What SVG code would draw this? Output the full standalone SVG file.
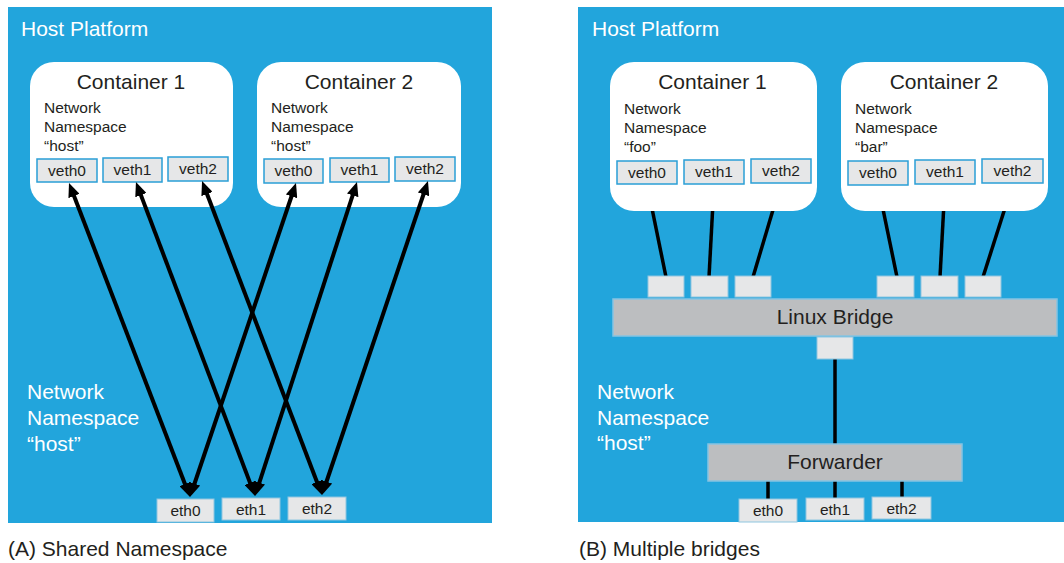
<svg xmlns="http://www.w3.org/2000/svg" width="1064" height="563" viewBox="0 0 1064 563">
  <style>
    .panel { fill: #22a5dc; }
    .container { fill: #ffffff; }
    .veth { fill: #e6e7e8; stroke: #2a9fd6; stroke-width: 1.5; }
    .port { fill: #e6e7e8; stroke: #8fc6e0; stroke-width: 1; }
    .bar { fill: #bcbec0; stroke: #86c3e2; stroke-width: 1.5; }
    .t { font-family: "Liberation Sans", Arial, sans-serif; fill: #231f20; }
    .w { font-family: "Liberation Sans", Arial, sans-serif; fill: #ffffff; }
    .lbl { font-size: 15.5px; }
    .ns { font-size: 15.5px; }
    .big { font-size: 21px; }
    .link { stroke: #000000; stroke-width: 4; fill: none; }
    .wire { stroke: #000000; stroke-width: 3.5; fill: none; }
  </style>
  <defs>
    <marker id="head" viewBox="0 0 14 12" refX="4" refY="6" markerWidth="14" markerHeight="12" markerUnits="userSpaceOnUse" orient="auto-start-reverse">
      <path d="M0,0 L14,6 L0,12 z" fill="#000000"/>
    </marker>
  </defs>

  <rect width="1064" height="563" fill="#ffffff"/>

  <!-- ===== (A) Shared Namespace ===== -->
  <g id="hostA">
    <rect class="panel" x="8" y="7" width="484" height="516"/>
    <text class="w big" x="21" y="36">Host Platform</text>
    <text class="w big"><tspan x="27" y="399">Network</tspan><tspan x="27" y="425">Namespace</tspan><tspan x="27" y="451">“host”</tspan></text>
  </g>

  <g id="a-container1">
    <rect class="container" x="30" y="62" width="203" height="145" rx="24"/>
    <text class="t big" x="131" y="89" text-anchor="middle">Container 1</text>
    <text class="t ns"><tspan x="44" y="113">Network</tspan><tspan x="44" y="132">Namespace</tspan><tspan x="44" y="151">“host”</tspan></text>
    <rect class="veth" x="37" y="159" width="60" height="23"/>
    <text class="t lbl" x="67" y="176" text-anchor="middle">veth0</text>
    <rect class="veth" x="103" y="158" width="59" height="24"/>
    <text class="t lbl" x="132.5" y="175" text-anchor="middle">veth1</text>
    <rect class="veth" x="168" y="157" width="60" height="24"/>
    <text class="t lbl" x="198" y="174" text-anchor="middle">veth2</text>
  </g>

  <g id="a-container2">
    <rect class="container" x="257" y="62" width="204" height="145" rx="24"/>
    <text class="t big" x="359" y="89" text-anchor="middle">Container 2</text>
    <text class="t ns"><tspan x="271" y="113">Network</tspan><tspan x="271" y="132">Namespace</tspan><tspan x="271" y="151">“host”</tspan></text>
    <rect class="veth" x="264" y="159" width="59" height="24"/>
    <text class="t lbl" x="293.5" y="176" text-anchor="middle">veth0</text>
    <rect class="veth" x="330" y="158" width="59" height="24"/>
    <text class="t lbl" x="359.5" y="175" text-anchor="middle">veth1</text>
    <rect class="veth" x="395" y="157" width="60" height="24"/>
    <text class="t lbl" x="425" y="174" text-anchor="middle">veth2</text>
  </g>

  <g id="a-eth">
    <rect class="port" x="157" y="499" width="57" height="23"/>
    <text class="t lbl" x="185.5" y="516" text-anchor="middle">eth0</text>
    <rect class="port" x="222" y="498" width="58" height="22"/>
    <text class="t lbl" x="251" y="515" text-anchor="middle">eth1</text>
    <rect class="port" x="288" y="497" width="58" height="23"/>
    <text class="t lbl" x="317" y="514" text-anchor="middle">eth2</text>
  </g>

  <g id="a-links">
    <line class="link" x1="72.6" y1="192.3" x2="186.4" y2="487.7" marker-start="url(#head)" marker-end="url(#head)"/>
    <line class="link" x1="139.5" y1="191.4" x2="251.5" y2="486.6" marker-start="url(#head)" marker-end="url(#head)"/>
    <line class="link" x1="205.6" y1="190.3" x2="318.4" y2="485.7" marker-start="url(#head)" marker-end="url(#head)"/>
    <line class="link" x1="292.8" y1="192.5" x2="193.2" y2="487.5" marker-start="url(#head)" marker-end="url(#head)"/>
    <line class="link" x1="353.9" y1="191.5" x2="258.1" y2="486.5" marker-start="url(#head)" marker-end="url(#head)"/>
    <line class="link" x1="424.8" y1="190.5" x2="325.2" y2="485.5" marker-start="url(#head)" marker-end="url(#head)"/>
  </g>

  <text class="t big" x="8" y="556">(A) Shared Namespace</text>

  <!-- ===== (B) Multiple bridges ===== -->
  <g id="hostB">
    <rect class="panel" x="578" y="7" width="486" height="515"/>
    <text class="w big" x="592" y="36">Host Platform</text>
    <text class="w big"><tspan x="597" y="399">Network</tspan><tspan x="597" y="425">Namespace</tspan><tspan x="597" y="450">“host”</tspan></text>
  </g>

  <!-- wires sit under the boxes they join -->
  <g id="b-links">
    <line class="wire" x1="647" y1="184" x2="666" y2="277"/>
    <line class="wire" x1="714" y1="184" x2="709" y2="277"/>
    <line class="wire" x1="781" y1="183" x2="753" y2="277"/>
    <line class="wire" x1="878" y1="185" x2="897" y2="277"/>
    <line class="wire" x1="945" y1="184" x2="940" y2="277"/>
    <line class="wire" x1="1013" y1="183" x2="983" y2="277"/>
    <line class="wire" x1="835" y1="358" x2="835" y2="445"/>
    <line class="wire" x1="768" y1="480" x2="768" y2="500"/>
    <line class="wire" x1="835" y1="480" x2="835" y2="499"/>
    <line class="wire" x1="902" y1="480" x2="902" y2="498"/>
  </g>

  <g id="b-container1">
    <rect class="container" x="610" y="62" width="207" height="149" rx="24"/>
    <text class="t big" x="712.5" y="89" text-anchor="middle">Container 1</text>
    <text class="t ns"><tspan x="624" y="114">Network</tspan><tspan x="624" y="133">Namespace</tspan><tspan x="624" y="152">“foo”</tspan></text>
    <rect class="veth" x="617" y="161" width="60" height="23"/>
    <text class="t lbl" x="647" y="178" text-anchor="middle">veth0</text>
    <rect class="veth" x="684" y="160" width="60" height="24"/>
    <text class="t lbl" x="714" y="177" text-anchor="middle">veth1</text>
    <rect class="veth" x="751" y="159" width="60" height="24"/>
    <text class="t lbl" x="781" y="176" text-anchor="middle">veth2</text>
  </g>

  <g id="b-container2">
    <rect class="container" x="841" y="62" width="207" height="149" rx="24"/>
    <text class="t big" x="944" y="89" text-anchor="middle">Container 2</text>
    <text class="t ns"><tspan x="855" y="114">Network</tspan><tspan x="855" y="133">Namespace</tspan><tspan x="855" y="152">“bar”</tspan></text>
    <rect class="veth" x="848" y="161" width="60" height="24"/>
    <text class="t lbl" x="878" y="178" text-anchor="middle">veth0</text>
    <rect class="veth" x="915" y="160" width="60" height="24"/>
    <text class="t lbl" x="945" y="177" text-anchor="middle">veth1</text>
    <rect class="veth" x="982" y="159" width="61" height="24"/>
    <text class="t lbl" x="1012.5" y="176" text-anchor="middle">veth2</text>
  </g>

  <g id="b-bridge">
    <rect class="port" x="648" y="276" width="36" height="21"/>
    <rect class="port" x="691" y="276" width="37" height="21"/>
    <rect class="port" x="735" y="276" width="36" height="21"/>
    <rect class="port" x="877" y="276" width="37" height="21"/>
    <rect class="port" x="921" y="276" width="37" height="21"/>
    <rect class="port" x="965" y="276" width="36" height="21"/>
    <rect class="bar" x="613" y="299" width="444" height="37"/>
    <text class="t big" x="835" y="324" text-anchor="middle">Linux Bridge</text>
    <rect class="port" x="817" y="337" width="36" height="22"/>
  </g>

  <g id="b-forwarder">
    <rect class="bar" x="708" y="444" width="254" height="37"/>
    <text class="t big" x="835" y="469" text-anchor="middle">Forwarder</text>
  </g>

  <g id="b-eth">
    <rect class="port" x="739" y="499" width="58" height="23"/>
    <text class="t lbl" x="768" y="516" text-anchor="middle">eth0</text>
    <rect class="port" x="806" y="498" width="58" height="22"/>
    <text class="t lbl" x="835" y="515" text-anchor="middle">eth1</text>
    <rect class="port" x="872" y="497" width="59" height="22"/>
    <text class="t lbl" x="901.5" y="514" text-anchor="middle">eth2</text>
  </g>

  <text class="t big" x="579" y="556">(B) Multiple bridges</text>
</svg>
